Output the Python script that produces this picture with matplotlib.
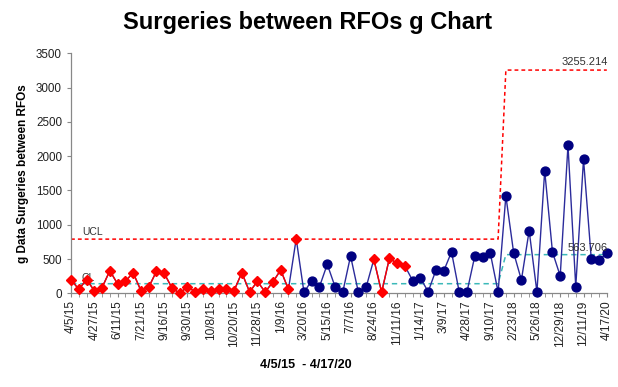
import numpy as np
import matplotlib
matplotlib.use("Agg")
import matplotlib.pyplot as plt

plt.rcParams['font.family'] = ['Liberation Sans', 'DejaVu Sans']

# g data: surgeries between RFOs (70 events)
g_values = [200, 58, 200, 39, 83, 330, 136, 175, 301, 39,
            87, 320, 292, 78, 0, 97, 19, 68, 39, 68,
            68, 39, 301, 19, 175, 19, 165, 340, 58, 795,
            15, 185, 97, 423, 97, 19, 544, 19, 87, 496,
            15, 510, 437, 398, 185, 219, 24, 340, 326, 603,
            15, 24, 544, 525, 583, 19, 1419, 593, 194, 914,
            19, 1788, 603, 253, 2158, 97, 1954, 500, 486, 583]

# control limits per phase
phase_len = [56, 14]
cl_phase = [140, 563.706]
ucl_phase = [790, 3255.214]

# flagged runs (red) - index ranges, and single out-of-limit point
red_runs = [(0, 29), (39, 44)]
red_single = [29]

tick_labels = ['4/5/15', '4/27/15', '6/11/15', '7/21/15', '9/16/15', '9/30/15',
               '10/8/15', '10/20/15', '11/28/15', '1/9/16', '3/20/16', '5/15/16',
               '7/7/16', '8/24/16', '11/11/16', '1/14/17', '3/9/17', '4/28/17',
               '9/10/17', '2/23/18', '5/26/18', '12/29/18', '12/11/19', '4/17/20']

x = np.arange(len(g_values))
vals = np.array(g_values, dtype=float)
cl = np.repeat(cl_phase, phase_len)
ucl = np.repeat(ucl_phase, phase_len)

is_red = np.zeros(len(vals), dtype=bool)
for a, b in red_runs:
    is_red[a:b] = True
is_red[red_single] = True

fig = plt.figure(figsize=(6.18, 3.87), dpi=100)
ax = fig.add_axes([0.1149, 0.2421, 0.867, 0.6202])

navy = '#000080'
red = '#FF0000'
teal = '#3CB9B9'

ax.plot(x, ucl, color=red, lw=1.1, ls=(0, (2.5, 2)), zorder=2, clip_on=False)
ax.plot(x, cl, color=teal, lw=1.1, ls=(0, (3.5, 2.5)), zorder=2, clip_on=False)

ax.plot(x, vals, color='#2B2B9B', lw=1.0, zorder=3, clip_on=False)
ax.plot(x[~is_red], vals[~is_red], ls='none', marker='o', ms=6.4,
        mfc=navy, mec=navy, zorder=3, clip_on=False)
for a, b in red_runs:
    ax.plot(x[a:b], vals[a:b], color=red, lw=1.0, marker='D', ms=4.8,
            mfc=red, mec=red, zorder=4, clip_on=False)
for i in red_single:
    ax.plot(x[i], vals[i], ls='none', marker='D', ms=4.8,
            mfc=red, mec=red, zorder=4, clip_on=False)

ax.text(1.4, 895, 'UCL', fontsize=7.5, color='#333333', va='center')
ax.text(1.4, 222, 'CL', fontsize=7.5, color='#333333', va='center')
ax.text(69.1, 3375, '3255.214', fontsize=8, color='#333333', ha='right', va='center')
ax.text(69.1, 660, '563.706', fontsize=8, color='#333333', ha='right', va='center')

ax.set_xlim(0, len(g_values) - 1)
ax.set_ylim(0, 3500)
ax.set_yticks(np.arange(0, 3501, 500))
ax.set_xticks(x[::3])
ax.set_xticklabels(tick_labels, rotation=90, fontsize=8.6, color='#222222')
ax.set_xticks(x, minor=True)
ax.tick_params(axis='y', labelsize=8.4, colors='#222222', length=3, color='#888888')
ax.tick_params(axis='x', which='both', length=3, color='#888888', pad=2)

for s in ['top', 'right']:
    ax.spines[s].set_visible(False)
for s in ['left', 'bottom']:
    ax.spines[s].set_color('#888888')
    ax.spines[s].set_linewidth(0.9)

ax.set_ylabel('g Data Surgeries between RFOs', fontsize=8.5, fontweight='bold', labelpad=5)
fig.text(0.495, 0.057, '4/5/15  - 4/17/20', fontsize=9, fontweight='bold', ha='center', va='center')
fig.text(0.497, 0.943, 'Surgeries between RFOs g Chart', fontsize=17, fontweight='bold',
         ha='center', va='center')

fig.savefig('out.png', dpi=100)
